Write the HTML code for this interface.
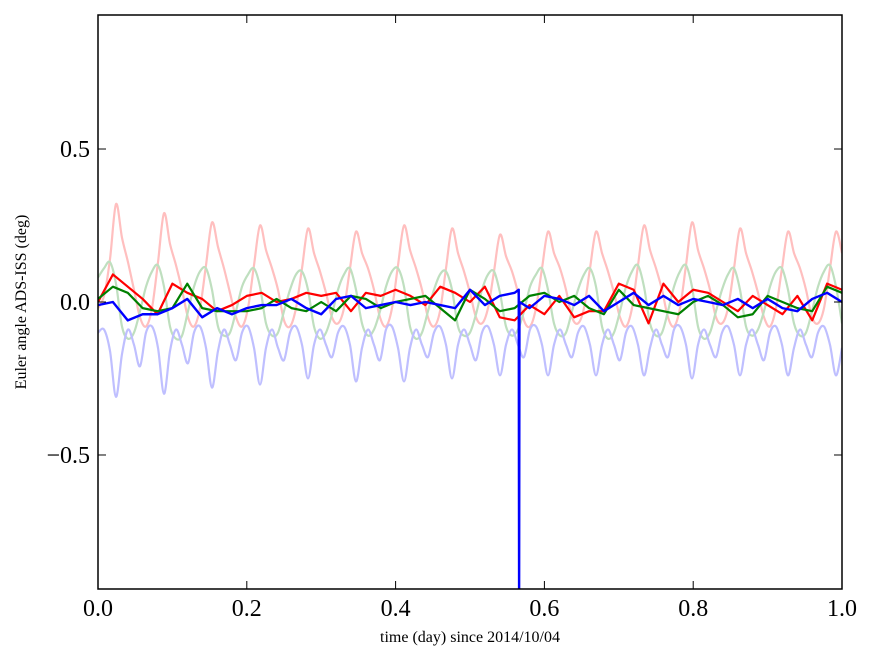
<!DOCTYPE html>
<html><head><meta charset="utf-8"><style>
body{margin:0;background:#fff;}
svg{display:block;font-family:"Liberation Serif",serif;}
</style></head><body>
<svg id="chart" width="875" height="662" viewBox="0 0 875 662" xmlns="http://www.w3.org/2000/svg">
<defs><clipPath id="pc"><rect x="98" y="15" width="744" height="574"/></clipPath></defs>
<rect x="0" y="0" width="875" height="662" fill="#fff"/>
<g id="series" clip-path="url(#pc)"></g>
<rect x="98" y="15" width="744" height="574" fill="none" stroke="#000" stroke-width="1.5"/>
<g id="ticks"></g>
<text x="470" y="642" font-size="16" text-anchor="middle">time (day) since 2014/10/04</text>
<text x="26" y="302" font-size="16" text-anchor="middle" transform="rotate(-90 26 302)">Euler angle ADS-ISS (deg)</text>
</svg>
<script>
const xTicks=[0.0,0.2,0.4,0.6,0.8,1.0];
const xTickLabels=["0.0","0.2","0.4","0.6","0.8","1.0"];
const yTicks=[0.5,0.0,-0.5];
const yTickLabels=["0.5","0.0","\u22120.5"];
const lightRed=[
-0.02,0.02,0.14,0.32,0.21,0.13,0.04,-0.05,
-0.08,-0.02,0.13,0.29,0.19,0.12,0.04,-0.05,
-0.08,-0.02,0.12,0.26,0.18,0.11,0.03,-0.05,
-0.08,-0.02,0.12,0.25,0.17,0.11,0.04,-0.06,
-0.08,-0.02,0.11,0.24,0.16,0.10,0.03,-0.05,
-0.07,-0.02,0.11,0.23,0.16,0.11,0.04,-0.05,
-0.08,-0.02,0.12,0.25,0.17,0.11,0.04,-0.05,
-0.08,-0.03,0.11,0.24,0.16,0.10,0.03,-0.05,
-0.07,-0.02,0.10,0.22,0.15,0.10,0.03,-0.06,
-0.08,-0.02,0.11,0.23,0.16,0.11,0.04,-0.05,
-0.07,-0.02,0.11,0.23,0.16,0.10,0.03,-0.05,
-0.08,-0.02,0.12,0.25,0.17,0.11,0.04,-0.05,
-0.08,-0.02,0.12,0.26,0.17,0.11,0.04,-0.05,
-0.07,-0.02,0.11,0.24,0.16,0.10,0.03,-0.05,
-0.08,-0.02,0.11,0.23,0.16,0.11,0.04,-0.05,
-0.07,-0.02,0.11,0.23,0.16];
const lightGreen=[
0.08,0.11,0.13,0.06,-0.08,-0.12,-0.10,-0.03,
0.05,0.10,0.12,0.05,-0.08,-0.12,-0.11,-0.03,
0.05,0.10,0.11,0.04,-0.08,-0.11,-0.10,-0.03,
0.05,0.09,0.11,0.05,-0.07,-0.11,-0.10,-0.03,
0.04,0.09,0.10,0.04,-0.08,-0.12,-0.10,-0.04,
0.04,0.09,0.11,0.04,-0.07,-0.11,-0.09,-0.03,
0.05,0.10,0.11,0.05,-0.08,-0.12,-0.10,-0.03,
0.04,0.09,0.10,0.04,-0.08,-0.11,-0.10,-0.04,
0.04,0.09,0.10,0.03,-0.08,-0.11,-0.09,-0.03,
0.05,0.09,0.11,0.04,-0.07,-0.11,-0.10,-0.03,
0.04,0.09,0.11,0.05,-0.08,-0.12,-0.10,-0.03,
0.05,0.10,0.12,0.05,-0.07,-0.11,-0.10,-0.03,
0.05,0.10,0.12,0.05,-0.08,-0.12,-0.10,-0.03,
0.04,0.09,0.11,0.04,-0.08,-0.11,-0.09,-0.03,
0.05,0.10,0.11,0.04,-0.07,-0.11,-0.10,-0.03,
0.05,0.10,0.12,0.05,-0.07];
const lightBlue=[
-0.10,-0.09,-0.16,-0.31,-0.17,-0.09,-0.14,-0.21,
-0.10,-0.08,-0.15,-0.30,-0.16,-0.09,-0.14,-0.20,
-0.10,-0.08,-0.15,-0.28,-0.16,-0.09,-0.14,-0.19,
-0.10,-0.08,-0.15,-0.27,-0.15,-0.09,-0.15,-0.19,
-0.10,-0.08,-0.14,-0.25,-0.14,-0.09,-0.14,-0.18,
-0.10,-0.08,-0.14,-0.26,-0.15,-0.09,-0.14,-0.19,
-0.09,-0.08,-0.15,-0.26,-0.15,-0.09,-0.14,-0.18,
-0.10,-0.08,-0.14,-0.25,-0.14,-0.09,-0.14,-0.19,
-0.10,-0.08,-0.14,-0.24,-0.14,-0.09,-0.14,-0.18,
-0.09,-0.08,-0.14,-0.24,-0.14,-0.09,-0.14,-0.18,
-0.10,-0.08,-0.14,-0.24,-0.14,-0.09,-0.14,-0.19,
-0.10,-0.08,-0.14,-0.24,-0.15,-0.09,-0.14,-0.18,
-0.09,-0.08,-0.14,-0.25,-0.14,-0.09,-0.14,-0.18,
-0.10,-0.08,-0.14,-0.24,-0.14,-0.09,-0.14,-0.19,
-0.10,-0.08,-0.14,-0.24,-0.15,-0.09,-0.14,-0.18,
-0.10,-0.08,-0.14,-0.24,-0.15];
const boldRed=[0.00,0.09,0.05,0.01,-0.04,0.06,0.03,0.01,-0.03,-0.01,0.02,0.03,0.00,0.01,0.03,0.02,0.03,-0.03,0.03,0.02,0.04,0.02,-0.01,0.05,0.03,0.00,0.05,-0.05,-0.06,-0.01,-0.04,0.02,-0.05,-0.03,-0.03,0.06,0.04,-0.07,0.06,0.00,0.04,0.03,0.00,-0.03,0.02,-0.01,-0.04,0.02,-0.06,0.06,0.04];
const boldGreen=[0.01,0.05,0.03,-0.02,-0.03,-0.02,0.06,-0.02,-0.03,-0.03,-0.03,-0.02,0.01,-0.02,-0.03,0.00,-0.03,0.02,0.01,-0.02,0.00,0.01,0.02,-0.02,-0.06,0.04,0.01,-0.03,-0.02,0.02,0.03,0.00,0.02,-0.02,-0.04,0.04,-0.01,-0.02,-0.03,-0.04,0.00,0.02,-0.01,-0.05,-0.04,0.02,0.00,-0.02,-0.03,0.05,0.03];
const boldBlue=[-0.01,0.00,-0.06,-0.04,-0.04,-0.02,0.01,-0.05,-0.02,-0.04,-0.02,-0.01,-0.01,0.01,-0.02,-0.04,0.01,0.02,-0.02,-0.01,0.00,-0.01,0.00,-0.01,-0.02,0.04,-0.01,0.02,0.03,-0.02,0.02,0.01,-0.01,0.02,-0.03,0.00,0.03,-0.01,0.02,-0.01,0.01,0.00,-0.01,0.01,-0.02,0.01,-0.02,-0.03,0.01,0.03,0.00];
const spikeT=[0.5655,0.566,0.5665];
const spikeV=[0.04,-1.0,0.0];

const L=98,R=842,T=15,B=589,yMax=0.938,yMin=-0.938;
const sx=t=>L+(t-0)/(1-0)*(R-L);
const sy=v=>T+(yMax-v)/(yMax-yMin)*(B-T);
const NS="http://www.w3.org/2000/svg";
const g=document.getElementById('series');
const tg=document.getElementById('ticks');

function smoothPath(pts){
  let d=`M${pts[0][0]},${pts[0][1]}`;
  for(let i=0;i<pts.length-1;i++){
    const p0=pts[Math.max(0,i-1)],p1=pts[i],p2=pts[i+1],p3=pts[Math.min(pts.length-1,i+2)];
    const c1=[p1[0]+(p2[0]-p0[0])/6,p1[1]+(p2[1]-p0[1])/6];
    const c2=[p2[0]-(p3[0]-p1[0])/6,p2[1]-(p3[1]-p1[1])/6];
    d+=`C${c1[0]},${c1[1]} ${c2[0]},${c2[1]} ${p2[0]},${p2[1]}`;
  }
  return d;
}
function linePath(pts){return pts.map((p,i)=>(i?'L':'M')+p[0]+','+p[1]).join('');}
function addPath(d,color,w){
  const p=document.createElementNS(NS,'path');
  p.setAttribute('d',d);p.setAttribute('fill','none');p.setAttribute('stroke',color);
  p.setAttribute('stroke-width',w);p.setAttribute('stroke-linejoin','round');
  g.appendChild(p);return p;
}
function evenPts(arr){const dt=1/124;return arr.map((v,i)=>[sx(i*dt),sy(v)]);}
function boldPts(arr){return arr.map((v,i)=>[sx(i*0.02),sy(v)]);}

let p;
p=addPath(smoothPath(evenPts(lightRed)),'#ffbfbf',2.2);


p=addPath(smoothPath(evenPts(lightGreen)),'#bfdfbf',2.2);


p=addPath(smoothPath(evenPts(lightBlue)),'#bfbfff',2.2);


p=addPath(linePath(boldPts(boldRed)),'#ff0000',2.2);


p=addPath(linePath(boldPts(boldGreen)),'#008000',2.2);


let bp=boldBlue.map((v,i)=>[i*0.02,v]);
spikeT.forEach((t,i)=>bp.push([t,spikeV[i]]));
bp.sort((a,b)=>a[0]-b[0]);
p=addPath(linePath(bp.map(q=>[sx(q[0]),sy(q[1])])),'#0000ff',2.4);



function tline(x1,y1,x2,y2){
  const l=document.createElementNS(NS,'line');
  l.setAttribute('x1',x1);l.setAttribute('y1',y1);l.setAttribute('x2',x2);l.setAttribute('y2',y2);
  l.setAttribute('stroke','#000');l.setAttribute('stroke-width','1');
  tg.appendChild(l);return l;
}
function ttext(x,y,s,anchor){
  const t=document.createElementNS(NS,'text');
  t.setAttribute('x',x);t.setAttribute('y',y);t.setAttribute('font-size','24');
  t.setAttribute('text-anchor',anchor);t.textContent=s;tg.appendChild(t);return t;
}
xTicks.forEach((v,i)=>{
  const x=sx(v);
  let l=tline(x,B,x,B-8);
  
  
  l=tline(x,T,x,T+8);
  
  
  const t=ttext(x,B+27,xTickLabels[i],'middle');
  
  
});
yTicks.forEach((v,i)=>{
  const y=sy(v);
  let l=tline(L,y,L+8,y);
  
  
  l=tline(R,y,R-8,y);
  
  
  const t=ttext(L-8,y+8,yTickLabels[i],'end');
  
  
});
</script>
</body></html>
